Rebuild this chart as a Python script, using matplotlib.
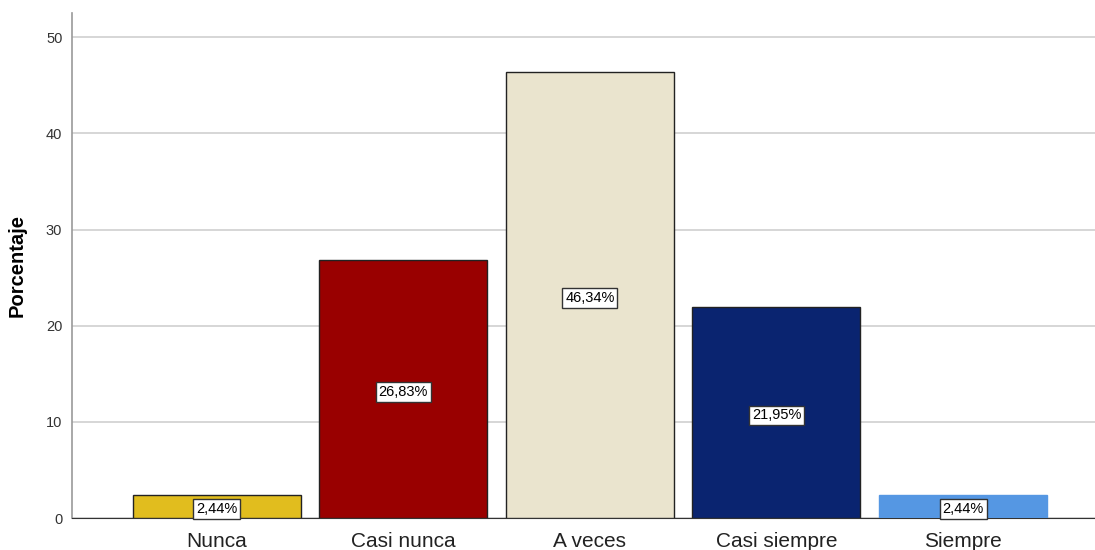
import numpy as np
import matplotlib
matplotlib.use('Agg')
import matplotlib.pyplot as plt

categorias = ['Nunca', 'Casi nunca', 'A veces', 'Casi siempre', 'Siempre']
porcentajes = [2.44, 26.83, 46.34, 21.95, 2.44]
etiquetas = ['2,44%', '26,83%', '46,34%', '21,95%', '2,44%']
colores = ['#E1BD1E', '#990000', '#EAE4CE', '#0A2470', '#5597E3']
bordes = ['#222222', '#222222', '#222222', '#222222', '#5597E3']

plt.rcParams['font.family'] = ['Liberation Sans', 'DejaVu Sans']

fig = plt.figure(figsize=(10.95, 5.5), dpi=100)
ax = fig.add_axes([0.0658, 0.058, 0.934, 0.918])

x = np.arange(len(categorias))
ax.bar(x, porcentajes, width=0.9, color=colores, edgecolor=bordes, linewidth=1.0, zorder=3)

for i in range(len(x)):
    ax.text(x[i], porcentajes[i] / 2 - 0.3, etiquetas[i], ha='center', va='center', fontsize=10.5,
            color='black', zorder=4,
            bbox=dict(boxstyle='square,pad=0.2', facecolor='white', edgecolor='#333333', linewidth=1.0))

ax.set_xlim(-0.775, 4.706)
ax.set_ylim(0, 52.5)
ax.set_yticks([0, 10, 20, 30, 40, 50])
ax.set_xticks(x)
ax.set_xticklabels(categorias, fontsize=15, color='#222222')
ax.tick_params(axis='y', length=0, labelsize=10.5, colors='#333333', pad=7)
ax.tick_params(axis='x', length=0, pad=10)
ax.yaxis.grid(True, color='#CFCFCF', linewidth=1.2, zorder=0)
ax.set_axisbelow(True)

ax.spines['top'].set_visible(False)
ax.spines['right'].set_visible(False)
ax.spines['left'].set_color('#999999')
ax.spines['left'].set_linewidth(1.2)
ax.spines['bottom'].set_color('#333333')

ax.set_ylabel('Porcentaje', fontsize=14.5, fontweight='bold', labelpad=14)

fig.savefig('out.png', dpi=100)
